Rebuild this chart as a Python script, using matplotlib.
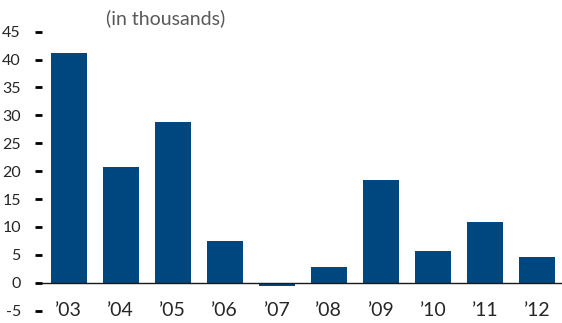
import matplotlib.pyplot as plt

# Datos (en miles)
years = ["’03", "’04", "’05", "’06", "’07", "’08", "’09", "’10", "’11", "’12"]
values = [41.1, 20.8, 28.75, 7.5, -0.55, 2.75, 18.35, 5.6, 10.8, 4.6]
yticks = [-5, 0, 5, 10, 15, 20, 25, 30, 35, 40, 45]

plt.rcParams['font.family'] = ['Lato', 'DejaVu Sans']

fig = plt.figure(figsize=(5.62, 3.23), dpi=100)
ax = fig.add_axes([0.0742, 0.0384, 0.9258, 0.8634])

x = range(len(years))
ax.bar(x, values, width=0.7, color='#00467F', zorder=2)
ax.axhline(0, color='#1a1a1a', linewidth=1.0, zorder=3)

ax.set_xlim(-0.52, 9.48)
ax.set_ylim(-5, 45)
ax.set_yticks(yticks)
ax.set_yticklabels([str(v) for v in yticks], fontsize=11.5, color='#262626')
ax.set_xticks(list(x))
ax.set_xticklabels(years, fontsize=14, color='#262626')

for s in ax.spines.values():
    s.set_visible(False)

ax.tick_params(axis='y', length=5, width=2, pad=10, color='black')
ax.tick_params(axis='x', length=0, pad=-6)

fig.text(0.295, 0.945, "(in thousands)", fontsize=14, color='#595959', ha='center', va='center')

fig.savefig('out.png', dpi=100)
